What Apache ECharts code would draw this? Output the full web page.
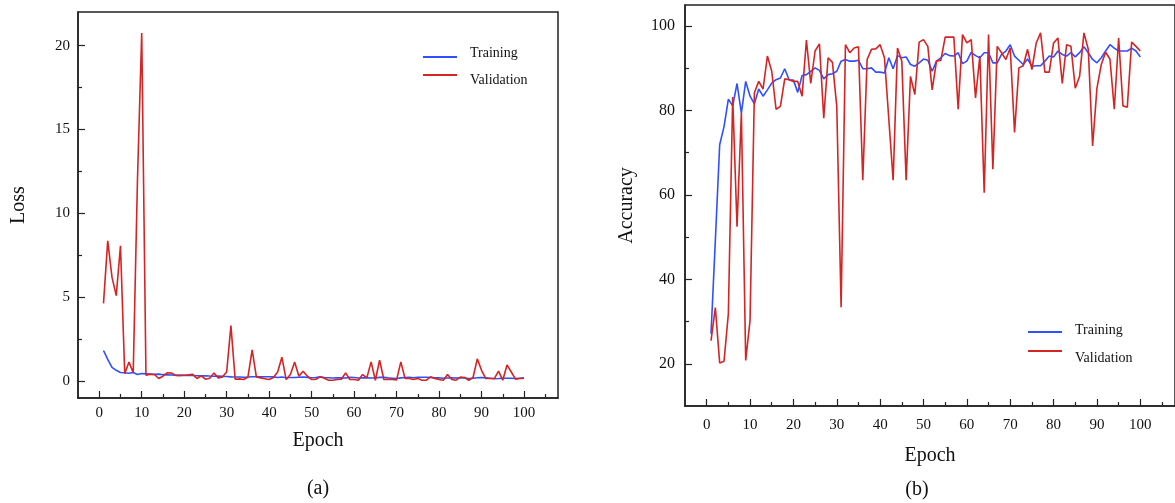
<!DOCTYPE html>
<html>
<head>
<meta charset="utf-8">
<script src="https://cdn.jsdelivr.net/npm/echarts@6/dist/echarts.min.js"></script>
<style>
  html, body { margin: 0; padding: 0; background: #fff; }
  #chart { width: 1175px; height: 503px; }
</style>
</head>
<body>
<div id="chart"></div>
<script>
// Per-epoch loss (a)
const lossTraining = [
  1.83, 1.30, 0.82, 0.65, 0.52, 0.50, 0.47, 0.52, 0.40, 0.46,
  0.44, 0.42, 0.41, 0.42, 0.39, 0.38, 0.37, 0.36, 0.37, 0.35,
  0.34, 0.34, 0.33, 0.32, 0.33, 0.31, 0.30, 0.31, 0.29, 0.28,
  0.26, 0.25, 0.25, 0.24, 0.25, 0.27, 0.27, 0.26, 0.27, 0.27,
  0.26, 0.22, 0.25, 0.21, 0.22, 0.22, 0.24, 0.25, 0.23, 0.21,
  0.22, 0.26, 0.22, 0.21, 0.19, 0.20, 0.20, 0.19, 0.23, 0.22,
  0.19, 0.20, 0.21, 0.19, 0.19, 0.23, 0.23, 0.20, 0.18, 0.16,
  0.20, 0.22, 0.24, 0.21, 0.24, 0.24, 0.24, 0.22, 0.20, 0.21,
  0.18, 0.19, 0.20, 0.19, 0.20, 0.19, 0.16, 0.18, 0.21, 0.22,
  0.20, 0.18, 0.15, 0.16, 0.18, 0.18, 0.18, 0.16, 0.18, 0.20
];
const lossValidation = [
  4.64, 8.36, 6.20, 5.10, 8.07, 0.45, 1.14, 0.50, 12.0, 20.75,
  0.35, 0.42, 0.40, 0.16, 0.30, 0.50, 0.49, 0.35, 0.33, 0.36,
  0.38, 0.41, 0.16, 0.32, 0.12, 0.18, 0.49, 0.20, 0.26, 0.55,
  3.31, 0.12, 0.14, 0.10, 0.25, 1.87, 0.25, 0.20, 0.15, 0.10,
  0.22, 0.55, 1.43, 0.10, 0.40, 1.14, 0.30, 0.60, 0.30, 0.10,
  0.12, 0.26, 0.18, 0.06, 0.06, 0.10, 0.12, 0.50, 0.10, 0.10,
  0.06, 0.40, 0.20, 1.15, 0.06, 1.25, 0.10, 0.10, 0.10, 0.08,
  1.15, 0.16, 0.16, 0.10, 0.16, 0.06, 0.06, 0.26, 0.16, 0.10,
  0.06, 0.40, 0.10, 0.06, 0.25, 0.22, 0.06, 0.22, 1.33, 0.65,
  0.16, 0.16, 0.16, 0.60, 0.06, 0.97, 0.55, 0.12, 0.16, 0.18
];

// Per-epoch accuracy (b)
const accTraining = [
  27.1, 49.3, 71.9, 76.2, 82.7, 81.1, 86.4, 79.4, 86.9, 83.4,
  81.6, 85.1, 83.4, 84.9, 86.5, 87.3, 87.7, 89.9, 87.3, 87.2,
  84.3, 88.3, 88.5, 89.3, 90.1, 89.5, 87.5, 88.5, 88.7, 89.3,
  91.7, 92.1, 91.7, 91.7, 91.9, 89.9, 89.9, 90.1, 89.1, 89.1,
  88.9, 92.5, 89.9, 93.0, 92.5, 92.7, 90.9, 90.5, 91.3, 92.2,
  91.9, 89.3, 91.7, 92.5, 93.5, 93.0, 92.9, 93.7, 91.1, 91.7,
  93.8, 93.0, 92.5, 93.7, 93.7, 91.3, 91.3, 93.3, 94.1, 95.6,
  92.9, 91.9, 90.9, 92.2, 90.5, 90.6, 90.6, 91.7, 92.9, 92.7,
  94.1, 93.3, 92.9, 93.7, 92.7, 93.7, 95.1, 93.7, 92.1, 91.3,
  92.5, 94.1, 95.6, 94.8, 94.1, 94.1, 94.1, 94.8, 94.1, 92.7
];
const accValidation = [
  25.5, 33.3, 20.2, 20.6, 31.9, 83.2, 52.5, 79.4, 20.8, 30.3,
  84.2, 86.9, 85.1, 92.9, 89.3, 80.3, 81.0, 87.5, 87.3, 86.9,
  86.9, 83.4, 96.7, 86.4, 94.1, 95.8, 78.2, 92.5, 91.4, 81.0,
  33.4, 95.6, 93.7, 94.8, 95.1, 63.5, 92.1, 94.5, 94.6, 95.6,
  92.5, 78.0, 63.5, 94.8, 91.7, 63.5, 88.1, 83.8, 96.2, 96.8,
  95.2, 84.9, 91.7, 91.9, 97.4, 97.4, 97.4, 80.3, 98.0, 96.0,
  96.8, 83.0, 92.9, 60.5, 98.0, 66.1, 95.2, 93.7, 92.1, 94.8,
  74.8, 90.1, 90.6, 94.5, 89.7, 96.0, 98.4, 89.1, 89.1, 96.0,
  97.2, 86.4, 95.6, 95.2, 85.3, 88.1, 98.4, 94.5, 71.6, 85.3,
  90.9, 93.8, 92.2, 80.3, 97.2, 81.1, 80.8, 96.2, 95.2, 94.1
];

// Axis tick positions
const epochMajor = [0, 10, 20, 30, 40, 50, 60, 70, 80, 90, 100];
const epochMinor = [5, 15, 25, 35, 45, 55, 65, 75, 85, 95, 105];
const lossMajor = [0, 5, 10, 15, 20];
const lossMinor = [2.5, 7.5, 12.5, 17.5];
const accMajor = [20, 40, 60, 80, 100];
const accMinor = [30, 50, 70, 90];

const FONT = 'Liberation Serif';
const INK = '#111';
const AXIS = '#222';
const BLUE = '#3050ff';
const RED = '#d42424';

const pairs = arr => arr.map((v, i) => [i + 1, v]);

function mainX(gridIndex, min, max, labelMargin, nameGap) {
  return {
    type: 'value', gridIndex, min, max, position: 'bottom',
    name: 'Epoch', nameLocation: 'middle', nameGap,
    nameTextStyle: { fontFamily: FONT, fontSize: 20, color: INK },
    axisLine: { show: true, onZero: false, lineStyle: { color: AXIS, width: 1.5 } },
    axisTick: { show: true, inside: true, length: 7, customValues: epochMajor, lineStyle: { color: AXIS, width: 1.2 } },
    axisLabel: { show: true, customValues: epochMajor, margin: labelMargin, fontFamily: FONT, fontSize: 15, color: INK },
    splitLine: { show: false }
  };
}
// Second axis on the same edge, used only for the short intermediate ticks
function minorX(gridIndex, min, max) {
  return {
    type: 'value', gridIndex, min, max, position: 'bottom',
    axisLine: { show: false, onZero: false },
    axisTick: { show: true, inside: true, length: 4, customValues: epochMinor, lineStyle: { color: AXIS, width: 1.2 } },
    axisLabel: { show: false },
    splitLine: { show: false }
  };
}
function mainY(gridIndex, min, max, major, name, nameGap, labelMargin, fontSize) {
  return {
    type: 'value', gridIndex, min, max, position: 'left',
    name, nameLocation: 'middle', nameGap,
    nameTextStyle: { fontFamily: FONT, fontSize: 20, color: INK },
    axisLine: { show: true, onZero: false, lineStyle: { color: AXIS, width: 1.5 } },
    axisTick: { show: true, inside: true, length: 7, customValues: major, lineStyle: { color: AXIS, width: 1.2 } },
    axisLabel: { show: true, customValues: major, margin: labelMargin, fontFamily: FONT, fontSize, color: INK },
    splitLine: { show: false }
  };
}
function minorY(gridIndex, min, max, minor) {
  return {
    type: 'value', gridIndex, min, max, position: 'left',
    axisLine: { show: false, onZero: false },
    axisTick: { show: true, inside: true, length: 4, customValues: minor, lineStyle: { color: AXIS, width: 1.2 } },
    axisLabel: { show: false },
    splitLine: { show: false }
  };
}

// Legend key: a 34px stroke placed inside a wider/taller icon box so that the
// label sits a little above or below the stroke and 13px to its right.
function keyIcon(boxH, lineTop) {
  return 'path://M0,' + lineTop + 'H34V' + (lineTop + 2) + 'H0Z' +
         'M42,0L42.01,0L42.01,0.01Z' +
         'M42,' + boxH + 'L42.01,' + boxH + 'L42.01,' + (boxH - 0.01) + 'Z';
}
function legendItem(name, left, top, boxH, lineTop) {
  return {
    data: [{ name, icon: keyIcon(boxH, lineTop) }],
    left, top, orient: 'vertical', padding: 0,
    itemWidth: 42, itemHeight: boxH,
    textStyle: { fontFamily: FONT, fontSize: 14, color: INK }
  };
}
function line(name, data, xi, yi, color) {
  return {
    name, type: 'line', data: pairs(data), xAxisIndex: xi, yAxisIndex: yi,
    showSymbol: false, symbol: 'none', color,
    lineStyle: { color, width: 1.6 }
  };
}

const chart = echarts.init(document.getElementById('chart'), null, { renderer: 'canvas' });
chart.setOption({
  animation: false,
  backgroundColor: '#fff',
  grid: [
    { left: 78, top: 12, width: 480, height: 386, show: true, borderColor: AXIS, borderWidth: 1.5 },
    { left: 685, top: 5, width: 519, height: 401, show: true, borderColor: AXIS, borderWidth: 1.5 }
  ],
  xAxis: [
    mainX(0, -5, 108, 8, 33),
    minorX(0, -5, 108),
    mainX(1, -5, 108, 12, 40),
    minorX(1, -5, 108)
  ],
  yAxis: [
    mainY(0, -1, 22, lossMajor, 'Loss', 49, 8, 15),
    minorY(0, -1, 22, lossMinor),
    mainY(1, 10, 105, accMajor, 'Accuracy', 48, 10, 16),
    minorY(1, 10, 105, accMinor)
  ],
  legend: [
    legendItem('Training', 423, 46, 10, 8),
    legendItem('Validation', 423, 73, 12, 0),
    legendItem('Training', 1028, 323, 6, 4),
    legendItem('Validation', 1028, 350, 16, 0)
  ],
  graphic: [
    { type: 'text', x: 318, y: 489, style: { text: '(a)', fontFamily: FONT, fontSize: 20, fill: INK, textAlign: 'center', textVerticalAlign: 'middle' } },
    { type: 'text', x: 917, y: 490, style: { text: '(b)', fontFamily: FONT, fontSize: 20, fill: INK, textAlign: 'center', textVerticalAlign: 'middle' } }
  ],
  series: [
    line('Training', lossTraining, 0, 0, BLUE),
    line('Validation', lossValidation, 0, 0, RED),
    line('Training', accTraining, 2, 2, BLUE),
    line('Validation', accValidation, 2, 2, RED)
  ]
});
</script>
</body>
</html>
